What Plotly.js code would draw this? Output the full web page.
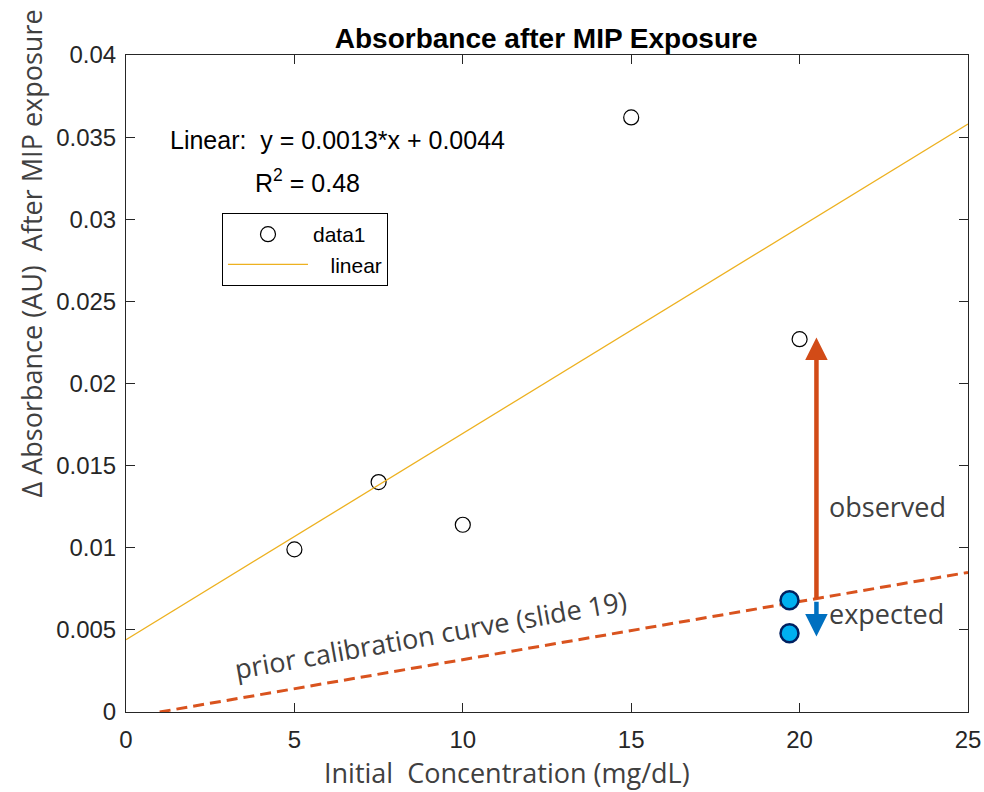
<!DOCTYPE html>
<html>
<head>
<meta charset="utf-8">
<script src="https://cdn.plot.ly/plotly-3.0.1.min.js"></script>
<style>html,body{margin:0;padding:0;background:#fff;}#chart{width:984px;height:792px;}</style>
</head>
<body>
<div id="chart"></div>
<script>
// Measured data (data1)
const concX = [5, 7.5, 10, 15, 20];
const absY = [0.0099, 0.0140, 0.0114, 0.0362, 0.0227];
// Linear fit y = 0.0013*x + 0.0044 (drawn across axis range)
const fitX = [0, 25];
const fitY = [0.0044, 0.0358];
// Prior calibration curve (slide 19)
const calX = [1.0, 25];
const calY = [0.0, 0.0085];
// Expected points
const expX = [19.7, 19.7];
const expY = [0.0068, 0.0048];
// Arrows (start, tip)
const obsArrowX = [20.5, 20.5];
const obsArrowY = [0.0068, 0.0228];
const expArrowX = [20.5, 20.5];
const expArrowY = [0.0068, 0.0046];
// Axis ticks
const xTicks = [0, 5, 10, 15, 20, 25];
const yTicks = [0, 0.005, 0.01, 0.015, 0.02, 0.025, 0.03, 0.035, 0.04];
const yTickText = ['0', '0.005', '0.01', '0.015', '0.02', '0.025', '0.03', '0.035', '0.04'];

const axisFont = {family: 'Liberation Sans, Arial, sans-serif', size: 24, color: '#262626'};
const grayFont = {family: 'Open Sans, Noto Sans, sans-serif', size: 27, color: '#404040'};

const traces = [
  {x: concX, y: absY, type: 'scatter', mode: 'markers', name: 'data1',
   marker: {symbol: 'circle-open', size: 15, color: '#000', line: {width: 1.2, color: '#000'}}},
  {x: fitX, y: fitY, type: 'scatter', mode: 'lines', name: '\u00a0\u00a0\u00a0linear',
   line: {color: '#EDB120', width: 1.3}},
  {x: calX, y: calY, type: 'scatter', mode: 'lines', showlegend: false,
   line: {color: '#D9531E', width: 3, dash: '11px,6px'}},
  {x: expX, y: expY, type: 'scatter', mode: 'markers', showlegend: false,
   marker: {symbol: 'circle', size: 18, color: '#00B0F0', line: {width: 2.5, color: '#002060'}}}
];

function arrow(xs, ys, color) {
  return {xref: 'x', yref: 'y', axref: 'x', ayref: 'y', x: xs[1], y: ys[1], ax: xs[0], ay: ys[0],
          showarrow: true, arrowhead: 2, arrowsize: 1, arrowwidth: 4.5, arrowcolor: color, text: ''};
}

const layout = {
  width: 984, height: 792,
  margin: {l: 126, r: 16, t: 55, b: 80},
  paper_bgcolor: '#fff', plot_bgcolor: '#fff',
  title: {text: '<b>Absorbance after MIP Exposure</b>', x: 0.555, xanchor: 'center', y: 0.952, yanchor: 'middle',
          font: {family: 'Liberation Sans, Arial, sans-serif', size: 28, color: '#000'}},
  showlegend: true,
  legend: {x: 0.114, y: 0.7595, xanchor: 'left', yanchor: 'top', bgcolor: '#fff', bordercolor: '#000', borderwidth: 1,
           font: {family: 'Liberation Sans, Arial, sans-serif', size: 21, color: '#000'}, itemwidth: 80, tracegroupgap: 0},
  xaxis: {range: [0, 25], tickvals: xTicks, ticks: 'inside', ticklen: 9, tickcolor: '#262626', tickwidth: 1,
          showline: true, linecolor: '#262626', linewidth: 1, mirror: 'ticks', showgrid: false, zeroline: false,
          tickfont: axisFont, ticklabelstandoff: 6, fixedrange: true},
  yaxis: {range: [0, 0.04], tickvals: yTicks, ticktext: yTickText, ticks: 'inside', ticklen: 9, tickcolor: '#262626', tickwidth: 1,
          showline: true, linecolor: '#262626', linewidth: 1, mirror: 'ticks', showgrid: false, zeroline: false,
          tickfont: axisFont, ticklabelstandoff: 4, fixedrange: true},
  annotations: [
    {xref: 'paper', yref: 'paper', x: -0.112, y: 0.6975, text: '\u0394 Absorbance (AU)  After MIP exposure', textangle: -90,
     showarrow: false, font: grayFont, xanchor: 'center', yanchor: 'middle'},
    {xref: 'paper', yref: 'paper', x: 0.452, y: -0.0925, text: 'Initial  Concentration (mg/dL)',
     showarrow: false, font: grayFont, xanchor: 'center', yanchor: 'middle'},
    {xref: 'x', yref: 'y', x: 1.25, y: 0.0348, text: 'Linear:  y = 0.0013*x + 0.0044', showarrow: false, xanchor: 'left', yanchor: 'middle',
     font: {family: 'Liberation Sans, Arial, sans-serif', size: 25, color: '#000'}},
    {xref: 'x', yref: 'y', x: 3.78, y: 0.0323, text: 'R<sup>2</sup> = 0.48', showarrow: false, xanchor: 'left', yanchor: 'middle',
     font: {family: 'Liberation Sans, Arial, sans-serif', size: 25, color: '#000'}},
    arrow(obsArrowX, obsArrowY, '#D24B17'),
    arrow(expArrowX, expArrowY, '#0070C0'),
    {xref: 'x', yref: 'y', x: 20.8, y: 0.0125, text: 'observed', showarrow: false, xanchor: 'left', yanchor: 'middle', font: grayFont},
    {xref: 'x', yref: 'y', x: 20.8, y: 0.0060, text: 'expected', showarrow: false, xanchor: 'left', yanchor: 'middle', font: grayFont},
    {xref: 'x', yref: 'y', x: 9.05, y: 0.0047, text: 'prior calibration curve (slide 19)', showarrow: false, textangle: -10,
     xanchor: 'center', yanchor: 'middle', font: grayFont}
  ]
};

Plotly.newPlot('chart', traces, layout, {displayModeBar: false, staticPlot: true});
</script>
</body>
</html>
